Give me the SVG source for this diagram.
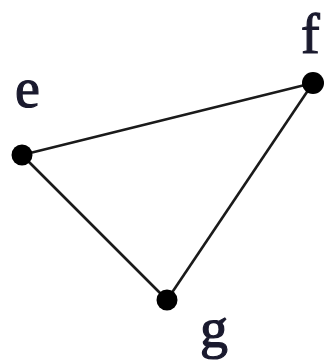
<svg xmlns="http://www.w3.org/2000/svg" width="329" height="364" viewBox="0 0 329 364">
<style>
.edge{stroke:#1a1a1a;stroke-width:2.6;fill:none}
.dot{fill:#000}
.lbl{font-family:"Liberation Serif","Times New Roman",serif;font-size:56px;fill:#1a1a2e;stroke:#1a1a2e;stroke-width:1.2}
</style>
<rect width="329" height="364" fill="#fff"/>
<g id="connectors">
<line class="edge" x1="22" y1="155" x2="313" y2="83"/>
<line class="edge" x1="22" y1="155" x2="167" y2="300"/>
<line class="edge" x1="313" y1="83" x2="167" y2="300"/>
</g>
<g id="node-e"><circle class="dot" cx="22" cy="155" r="10.5"/><text class="lbl" x="15" y="107">e</text></g>
<g id="node-f"><circle class="dot" cx="313" cy="83" r="11"/><text class="lbl" x="301" y="53">f</text></g>
<g id="node-g"><circle class="dot" cx="167" cy="300" r="10.5"/><text class="lbl" x="200" y="347">g</text></g>
</svg>
